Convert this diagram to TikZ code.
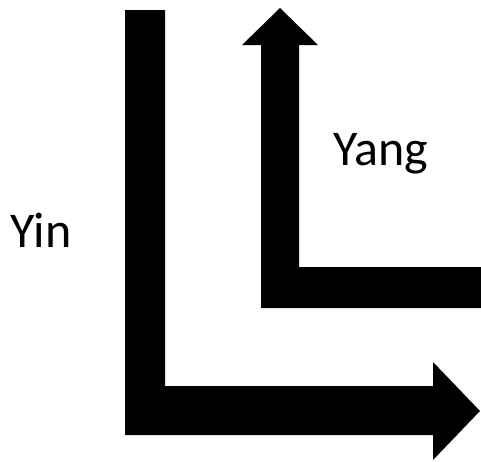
\documentclass[tikz,border=0pt]{standalone}
\usepackage{fontspec}
\setmainfont{Carlito}
\usepackage{tikz}

\begin{document}
\begin{tikzpicture}[x=1pt, y=-1pt]
\tikzset{label/.style={anchor=base west, inner sep=0pt, font=\fontsize{50}{60}\selectfont}}
\useasboundingbox (0,0) rectangle (481,461);
\fill (125,10) -- (165,10) -- (165,386) -- (433,386) -- (433,362) -- (480,411) -- (433,460) -- (433,435) -- (125,435) -- cycle;
\fill (261,308) -- (261,45) -- (242,45) -- (280,8) -- (318,45) -- (299,45) -- (299,267) -- (481,267) -- (481,308) -- cycle;
\node [label] (yin) at (10,247) {Yin};
\node [label] (yang) at (333,165) {Yang};
\end{tikzpicture}
\end{document}
